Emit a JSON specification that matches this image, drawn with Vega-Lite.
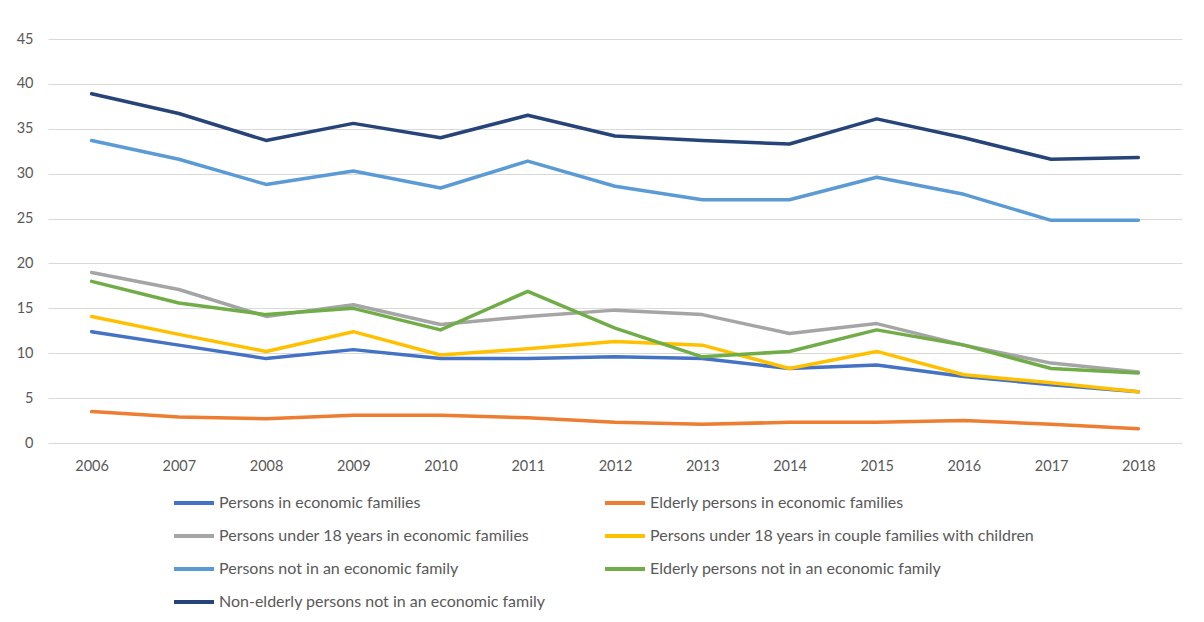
{
  "$schema": "https://vega.github.io/schema/vega-lite/v6.json",
  "width": 1134,
  "height": 404,
  "autosize": {"type": "none"},
  "padding": {"left": 48, "top": 39, "right": 22, "bottom": 179},
  "background": "white",
  "config": {
    "view": {"stroke": null},
    "font": "Lato"
  },
  "data": {
    "values": [
      {"year": "2006", "series": "Persons in economic families", "value": 12.4},
      {"year": "2007", "series": "Persons in economic families", "value": 10.9},
      {"year": "2008", "series": "Persons in economic families", "value": 9.4},
      {"year": "2009", "series": "Persons in economic families", "value": 10.4},
      {"year": "2010", "series": "Persons in economic families", "value": 9.4},
      {"year": "2011", "series": "Persons in economic families", "value": 9.4},
      {"year": "2012", "series": "Persons in economic families", "value": 9.6},
      {"year": "2013", "series": "Persons in economic families", "value": 9.4},
      {"year": "2014", "series": "Persons in economic families", "value": 8.3},
      {"year": "2015", "series": "Persons in economic families", "value": 8.7},
      {"year": "2016", "series": "Persons in economic families", "value": 7.4},
      {"year": "2017", "series": "Persons in economic families", "value": 6.5},
      {"year": "2018", "series": "Persons in economic families", "value": 5.7},

      {"year": "2006", "series": "Elderly persons in economic families", "value": 3.5},
      {"year": "2007", "series": "Elderly persons in economic families", "value": 2.9},
      {"year": "2008", "series": "Elderly persons in economic families", "value": 2.7},
      {"year": "2009", "series": "Elderly persons in economic families", "value": 3.1},
      {"year": "2010", "series": "Elderly persons in economic families", "value": 3.1},
      {"year": "2011", "series": "Elderly persons in economic families", "value": 2.8},
      {"year": "2012", "series": "Elderly persons in economic families", "value": 2.3},
      {"year": "2013", "series": "Elderly persons in economic families", "value": 2.1},
      {"year": "2014", "series": "Elderly persons in economic families", "value": 2.3},
      {"year": "2015", "series": "Elderly persons in economic families", "value": 2.3},
      {"year": "2016", "series": "Elderly persons in economic families", "value": 2.5},
      {"year": "2017", "series": "Elderly persons in economic families", "value": 2.1},
      {"year": "2018", "series": "Elderly persons in economic families", "value": 1.6},

      {"year": "2006", "series": "Persons under 18 years in economic families", "value": 19.0},
      {"year": "2007", "series": "Persons under 18 years in economic families", "value": 17.1},
      {"year": "2008", "series": "Persons under 18 years in economic families", "value": 14.1},
      {"year": "2009", "series": "Persons under 18 years in economic families", "value": 15.4},
      {"year": "2010", "series": "Persons under 18 years in economic families", "value": 13.2},
      {"year": "2011", "series": "Persons under 18 years in economic families", "value": 14.1},
      {"year": "2012", "series": "Persons under 18 years in economic families", "value": 14.8},
      {"year": "2013", "series": "Persons under 18 years in economic families", "value": 14.3},
      {"year": "2014", "series": "Persons under 18 years in economic families", "value": 12.2},
      {"year": "2015", "series": "Persons under 18 years in economic families", "value": 13.3},
      {"year": "2016", "series": "Persons under 18 years in economic families", "value": 10.9},
      {"year": "2017", "series": "Persons under 18 years in economic families", "value": 8.9},
      {"year": "2018", "series": "Persons under 18 years in economic families", "value": 7.9},

      {"year": "2006", "series": "Persons under 18 years in couple families with children", "value": 14.1},
      {"year": "2007", "series": "Persons under 18 years in couple families with children", "value": 12.1},
      {"year": "2008", "series": "Persons under 18 years in couple families with children", "value": 10.2},
      {"year": "2009", "series": "Persons under 18 years in couple families with children", "value": 12.4},
      {"year": "2010", "series": "Persons under 18 years in couple families with children", "value": 9.8},
      {"year": "2011", "series": "Persons under 18 years in couple families with children", "value": 10.5},
      {"year": "2012", "series": "Persons under 18 years in couple families with children", "value": 11.3},
      {"year": "2013", "series": "Persons under 18 years in couple families with children", "value": 10.9},
      {"year": "2014", "series": "Persons under 18 years in couple families with children", "value": 8.3},
      {"year": "2015", "series": "Persons under 18 years in couple families with children", "value": 10.2},
      {"year": "2016", "series": "Persons under 18 years in couple families with children", "value": 7.6},
      {"year": "2017", "series": "Persons under 18 years in couple families with children", "value": 6.7},
      {"year": "2018", "series": "Persons under 18 years in couple families with children", "value": 5.7},

      {"year": "2006", "series": "Persons not in an economic family", "value": 33.7},
      {"year": "2007", "series": "Persons not in an economic family", "value": 31.6},
      {"year": "2008", "series": "Persons not in an economic family", "value": 28.8},
      {"year": "2009", "series": "Persons not in an economic family", "value": 30.3},
      {"year": "2010", "series": "Persons not in an economic family", "value": 28.4},
      {"year": "2011", "series": "Persons not in an economic family", "value": 31.4},
      {"year": "2012", "series": "Persons not in an economic family", "value": 28.6},
      {"year": "2013", "series": "Persons not in an economic family", "value": 27.1},
      {"year": "2014", "series": "Persons not in an economic family", "value": 27.1},
      {"year": "2015", "series": "Persons not in an economic family", "value": 29.6},
      {"year": "2016", "series": "Persons not in an economic family", "value": 27.7},
      {"year": "2017", "series": "Persons not in an economic family", "value": 24.8},
      {"year": "2018", "series": "Persons not in an economic family", "value": 24.8},

      {"year": "2006", "series": "Elderly persons not in an economic family", "value": 18.0},
      {"year": "2007", "series": "Elderly persons not in an economic family", "value": 15.6},
      {"year": "2008", "series": "Elderly persons not in an economic family", "value": 14.3},
      {"year": "2009", "series": "Elderly persons not in an economic family", "value": 15.0},
      {"year": "2010", "series": "Elderly persons not in an economic family", "value": 12.6},
      {"year": "2011", "series": "Elderly persons not in an economic family", "value": 16.9},
      {"year": "2012", "series": "Elderly persons not in an economic family", "value": 12.8},
      {"year": "2013", "series": "Elderly persons not in an economic family", "value": 9.6},
      {"year": "2014", "series": "Elderly persons not in an economic family", "value": 10.2},
      {"year": "2015", "series": "Elderly persons not in an economic family", "value": 12.6},
      {"year": "2016", "series": "Elderly persons not in an economic family", "value": 10.9},
      {"year": "2017", "series": "Elderly persons not in an economic family", "value": 8.3},
      {"year": "2018", "series": "Elderly persons not in an economic family", "value": 7.8},

      {"year": "2006", "series": "Non-elderly persons not in an economic family", "value": 38.9},
      {"year": "2007", "series": "Non-elderly persons not in an economic family", "value": 36.7},
      {"year": "2008", "series": "Non-elderly persons not in an economic family", "value": 33.7},
      {"year": "2009", "series": "Non-elderly persons not in an economic family", "value": 35.6},
      {"year": "2010", "series": "Non-elderly persons not in an economic family", "value": 34.0},
      {"year": "2011", "series": "Non-elderly persons not in an economic family", "value": 36.5},
      {"year": "2012", "series": "Non-elderly persons not in an economic family", "value": 34.2},
      {"year": "2013", "series": "Non-elderly persons not in an economic family", "value": 33.7},
      {"year": "2014", "series": "Non-elderly persons not in an economic family", "value": 33.3},
      {"year": "2015", "series": "Non-elderly persons not in an economic family", "value": 36.1},
      {"year": "2016", "series": "Non-elderly persons not in an economic family", "value": 34.0},
      {"year": "2017", "series": "Non-elderly persons not in an economic family", "value": 31.6},
      {"year": "2018", "series": "Non-elderly persons not in an economic family", "value": 31.8}
    ]
  },
  "mark": {"type": "line", "strokeWidth": 3.5, "strokeCap": "round", "strokeJoin": "round"},
  "encoding": {
    "x": {
      "field": "year",
      "type": "ordinal",
      "scale": {"type": "point", "padding": 0.5},
      "axis": {
        "title": null,
        "labelAngle": 0,
        "domain": false,
        "ticks": false,
        "labelPadding": 16,
        "labelFont": "Lato",
        "labelFontSize": 14.5,
        "labelColor": "#595959"
      }
    },
    "y": {
      "field": "value",
      "type": "quantitative",
      "scale": {"domain": [0, 45], "nice": false},
      "axis": {
        "title": null,
        "values": [0, 5, 10, 15, 20, 25, 30, 35, 40, 45],
        "domain": false,
        "ticks": false,
        "labelPadding": 15,
        "labelFont": "Lato",
        "labelFontSize": 14.5,
        "labelColor": "#595959",
        "gridColor": "#D9D9D9",
        "gridWidth": 1
      }
    },
    "color": {
      "field": "series",
      "type": "nominal",
      "sort": null,
      "scale": {
        "domain": [
          "Persons in economic families",
          "Elderly persons in economic families",
          "Persons under 18 years in economic families",
          "Persons under 18 years in couple families with children",
          "Persons not in an economic family",
          "Elderly persons not in an economic family",
          "Non-elderly persons not in an economic family"
        ],
        "range": ["#4472C4", "#ED7D31", "#A5A5A5", "#FFC000", "#5B9BD5", "#70AD47", "#264478"]
      },
      "legend": {
        "title": null,
        "orient": "none",
        "direction": "horizontal",
        "legendX": 124,
        "legendY": 442,
        "columns": 2,
        "columnPadding": 51,
        "rowPadding": 3,
        "symbolType": "stroke",
        "symbolSize": 1600,
        "symbolStrokeWidth": 4,
        "labelOffset": 3,
        "labelFont": "Lato",
        "labelFontSize": 16,
        "labelColor": "#595959",
        "labelLimit": 600
      }
    }
  }
}
